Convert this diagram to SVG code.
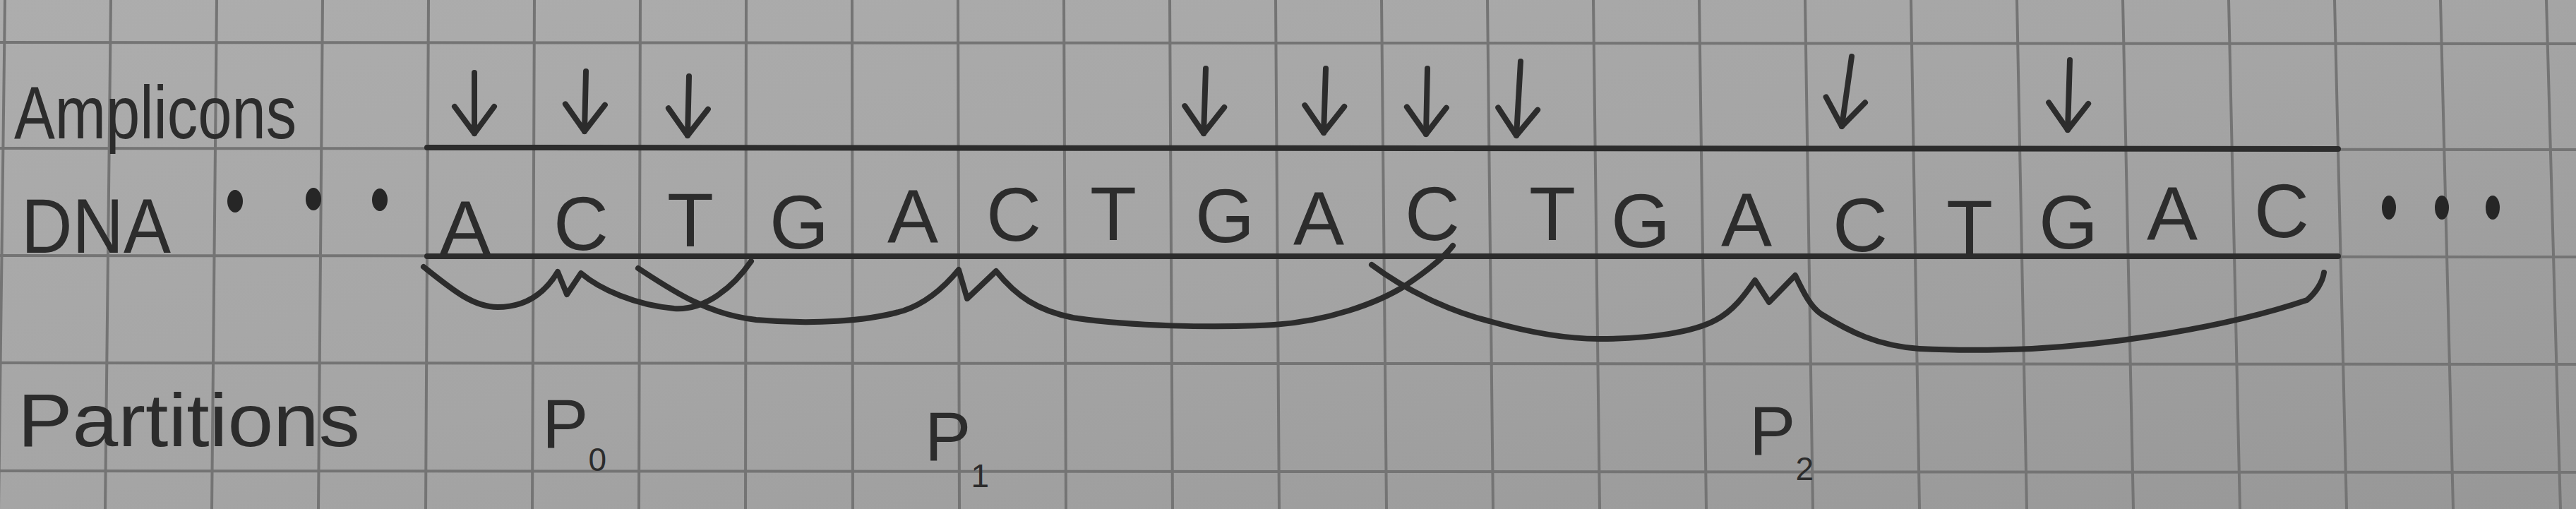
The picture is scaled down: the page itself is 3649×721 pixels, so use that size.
<svg xmlns="http://www.w3.org/2000/svg" width="3649" height="721" viewBox="0 0 3649 721">
<style>
.grid{stroke:#747474;stroke-width:4;fill:none}
.ink{stroke:#2c2c2c;stroke-width:8;fill:none;stroke-linecap:round;stroke-linejoin:round}
.lbl{font-family:"Liberation Sans",Arial,sans-serif;fill:#2c2c2c}
.base{font-family:"Liberation Sans",Arial,sans-serif;fill:#2c2c2c;font-size:108px;text-anchor:middle}
.pl{font-size:98px}
.sub{font-size:46px}
.dot{fill:#262626}
</style>
<defs>
<linearGradient id="paper" x1="0" y1="0" x2="1" y2="1">
<stop offset="0" stop-color="#adadad"/>
<stop offset="0.5" stop-color="#a5a5a5"/>
<stop offset="1" stop-color="#979797"/>
</linearGradient>
<marker id="head" viewBox="-5 -5 50 70" refX="40" refY="30" markerWidth="50" markerHeight="70" markerUnits="userSpaceOnUse" orient="auto" overflow="visible">
<path d="M2,2 L40,30 L2,58" fill="none" stroke="#2c2c2c" stroke-width="8" stroke-linecap="round" stroke-linejoin="round"/>
</marker>
</defs>
<rect width="3649" height="721" fill="url(#paper)"/>
<g id="grid" class="grid">
<path d="M7,0 L-2,721 M157,0 L149,721 M307,0 L300,721 M457,0 L451,721 M607,0 L603,721 M757,0 L754,721 M907,0 L905,721 M1057,0 L1056,721 M1207,0 L1208,721 M1357,0 L1359,721 M1507,0 L1510,721 M1657,0 L1661,721 M1807,0 L1812,721 M1957,0 L1964,721 M2107,0 L2115,721 M2257,0 L2266,721 M2407,0 L2417,721 M2557,0 L2568,721 M2707,0 L2719,721 M2857,0 L2871,721 M3007,0 L3022,721 M3157,0 L3173,721 M3307,0 L3324,721 M3457,0 L3475,721 M3607,0 L3627,721"/>
<path d="M0,60 L3649,62 M0,210 L3649,212 M0,362 L3649,364 M0,514 L3649,516 M0,667 L3649,669"/>
</g>
<g id="label-amplicons"><text class="lbl" x="20" y="196" font-size="106" textLength="400" lengthAdjust="spacingAndGlyphs">Amplicons</text></g>
<g id="label-dna"><text class="lbl" x="30" y="358" font-size="110" textLength="212" lengthAdjust="spacingAndGlyphs">DNA</text></g>
<g id="label-partitions"><text class="lbl" x="25" y="632" font-size="106" textLength="485" lengthAdjust="spacingAndGlyphs">Partitions</text></g>
<g id="dots-left">
<ellipse class="dot" cx="333" cy="285" rx="11" ry="16"/>
<ellipse class="dot" cx="444" cy="282" rx="11" ry="16"/>
<ellipse class="dot" cx="538" cy="283" rx="11" ry="16"/>
</g>
<g id="dots-right">
<ellipse class="dot" cx="3384" cy="294" rx="10" ry="17"/>
<ellipse class="dot" cx="3459" cy="294" rx="10" ry="17"/>
<ellipse class="dot" cx="3531" cy="294" rx="10" ry="17"/>
</g>
<g id="dna-box" class="ink">
<path d="M605,209 L3312,211"/>
<path d="M605,363 L3312,363"/>
</g>
<g id="dna-bases">
<g id="b0"><text class="base" x="659" y="360">A</text></g>
<g id="b1"><text class="base" x="823" y="354">C</text></g>
<g id="b2"><text class="base" x="978" y="349">T</text></g>
<g id="b3"><text class="base" x="1132" y="352">G</text></g>
<g id="b4"><text class="base" x="1293" y="344">A</text></g>
<g id="b5"><text class="base" x="1436" y="341">C</text></g>
<g id="b6"><text class="base" x="1577" y="340">T</text></g>
<g id="b7"><text class="base" x="1735" y="343">G</text></g>
<g id="b8"><text class="base" x="1868" y="347">A</text></g>
<g id="b9"><text class="base" x="2029" y="340">C</text></g>
<g id="b10"><text class="base" x="2199" y="340">T</text></g>
<g id="b11"><text class="base" x="2324" y="350">G</text></g>
<g id="b12"><text class="base" x="2474" y="349">A</text></g>
<g id="b13"><text class="base" x="2635" y="356">C</text></g>
<g id="b14"><text class="base" x="2790" y="359">T</text></g>
<g id="b15"><text class="base" x="2930" y="352">G</text></g>
<g id="b16"><text class="base" x="3077" y="340">A</text></g>
<g id="b17"><text class="base" x="3232" y="336">C</text></g>
</g>
<g id="partition-labels" class="lbl">
<g id="p0"><text class="pl" x="768" y="634">P<tspan class="sub" dy="33">0</tspan></text></g>
<g id="p1"><text class="pl" x="1310" y="652">P<tspan class="sub" dy="38">1</tspan></text></g>
<g id="p2"><text class="pl" x="2478" y="644">P<tspan class="sub" dy="36">2</tspan></text></g>
</g>
<g id="connectors" class="ink">
<g id="amplicon-arrows">
<path d="M672,103 L672,189" marker-end="url(#head)"/>
<path d="M830,101 L828,186" marker-end="url(#head)"/>
<path d="M976,108 L974,192" marker-end="url(#head)"/>
<path d="M1708,97 L1705,189" marker-end="url(#head)"/>
<path d="M1878,97 L1875,188" marker-end="url(#head)"/>
<path d="M2022,97 L2020,190" marker-end="url(#head)"/>
<path d="M2154,87 L2148,192" marker-end="url(#head)"/>
<path d="M2623,80 L2609,179" marker-end="url(#head)"/>
<path d="M2932,85 L2929,184" marker-end="url(#head)"/>
</g>
<g id="brace-p0">
<path d="M600,378 C640,410 670,435 705,435 C750,435 775,410 790,385 L803,417 L823,387 C850,410 900,432 955,437 C1000,440 1040,405 1064,370"/>
</g>
<g id="brace-p1">
<path d="M904,380 C950,410 1000,445 1071,453 C1150,460 1230,455 1280,440 C1310,430 1335,410 1358,382 L1370,423 L1411,384 C1440,420 1470,440 1520,450 C1600,462 1720,465 1805,460 C1880,455 1950,430 1990,405 C2020,385 2045,365 2058,348"/>
</g>
<g id="brace-p2">
<path d="M1943,375 C1990,410 2050,440 2110,455 C2170,472 2220,480 2265,480 C2340,480 2400,470 2431,453 C2455,440 2470,420 2486,397 L2506,428 L2543,390 C2555,415 2565,435 2580,445 C2620,470 2660,490 2719,494 C2780,497 2830,496 2878,494 C2990,488 3150,465 3268,425 C3280,415 3290,400 3292,386"/>
</g>
</g>
</svg>
